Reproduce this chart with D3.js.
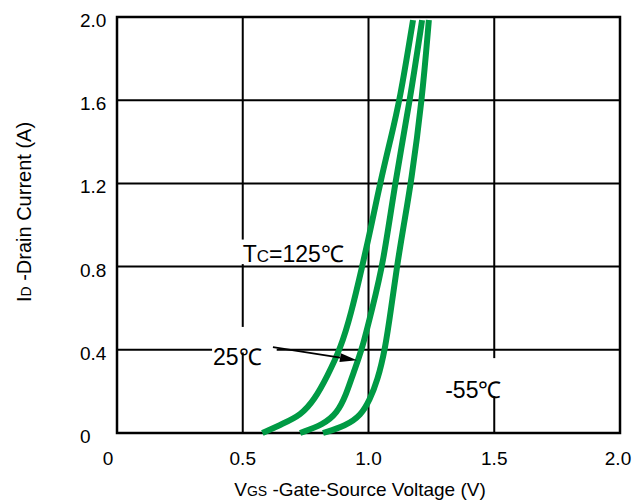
<!DOCTYPE html>
<html>
<head>
<meta charset="utf-8">
<script src="https://cdn.jsdelivr.net/npm/d3@7/dist/d3.min.js"></script>
<style>
  html, body { margin: 0; padding: 0; background: #fff; }
  svg { display: block; font-family: "Liberation Sans", Arial, sans-serif; }
</style>
</head>
<body>
<svg id="chart" width="633" height="500"></svg>
<script>
// ---- data ----
const xTicks = [0, 0.5, 1.0, 1.5, 2.0];
const xTickLabels = ["0", "0.5", "1.0", "1.5", "2.0"];
const yTicks = [0, 0.4, 0.8, 1.2, 1.6, 2.0];
const yTickLabels = ["0", "0.4", "0.8", "1.2", "1.6", "2.0"];

const seriesNames = ["125", "25", "-55"];
const vgs125 = [0.578, 0.66, 0.73, 0.785, 0.835, 0.89, 0.93, 0.975, 1.01, 1.046, 1.085, 1.125, 1.177];
const id125  = [0.0,   0.045, 0.085, 0.16, 0.27, 0.41, 0.57, 0.80, 0.99, 1.20, 1.40, 1.60, 1.985];
const vgs25  = [0.728, 0.82, 0.875, 0.91, 0.94, 0.974, 1.015, 1.058, 1.105, 1.165, 1.213];
const id25   = [0.0,   0.04, 0.095, 0.18, 0.29, 0.40,  0.60,  0.81,  1.20,  1.60,  1.985];
const vgsM55 = [0.819, 0.91, 0.97, 1.005, 1.035, 1.066, 1.09, 1.113, 1.14, 1.169, 1.213, 1.24];
const idM55  = [0.0,   0.035, 0.085, 0.16, 0.25, 0.40, 0.60, 0.80, 1.00, 1.20, 1.60, 1.985];

// ---- layout ----
const svg = d3.select("#chart");
const L = 117, R = 620, T = 17, B = 433;
const x = d3.scaleLinear().domain([0, 2]).range([L, R]);
const y = d3.scaleLinear().domain([0, 2]).range([B, T]);
const green = "#009a44";

// grid lines
svg.append("g").selectAll("line").data(xTicks.slice(1, -1)).enter().append("line")
  .attr("x1", d => x(d)).attr("x2", d => x(d)).attr("y1", T).attr("y2", B)
  .attr("stroke", "#000").attr("stroke-width", 2);
svg.append("g").selectAll("line").data(yTicks.slice(1, -1)).enter().append("line")
  .attr("y1", d => y(d)).attr("y2", d => y(d)).attr("x1", L).attr("x2", R)
  .attr("stroke", "#000").attr("stroke-width", 2);

// white boxes behind annotation labels (cover gridlines)
const boxes = [
  [0.476, 0.93, 0.955, 0.812],
  [0.378, 0.51, 0.635, 0.387],
  [1.28, 0.36, 1.54, 0.175]
];
svg.append("g").selectAll("rect").data(boxes).enter().append("rect")
  .attr("x", d => x(d[0])).attr("y", d => y(d[1]))
  .attr("width", d => x(d[2]) - x(d[0])).attr("height", d => y(d[3]) - y(d[1]))
  .attr("fill", "#fff");

// plot frame
svg.append("rect").attr("x", L).attr("y", T).attr("width", R - L).attr("height", B - T)
  .attr("fill", "none").attr("stroke", "#000").attr("stroke-width", 2.5);

// curves
const curves = [
  d3.zip(vgs125, id125),
  d3.zip(vgs25, id25),
  d3.zip(vgsM55, idM55)
];
const line = d3.line().x(d => x(d[0])).y(d => y(d[1])).curve(d3.curveBasis);
svg.append("g").selectAll("path").data(curves).enter().append("path")
  .attr("d", line).attr("fill", "none").attr("stroke", green).attr("stroke-width", 6)
  .attr("stroke-linecap", "butt");

// tick labels
svg.append("g").selectAll("text").data(xTicks).enter().append("text")
  .attr("x", (d, i) => x(d) + (i === 0 ? -9 : (i === xTicks.length - 1 ? -2 : 0)))
  .attr("y", 465).attr("text-anchor", "middle").attr("font-size", 19).attr("fill", "#000")
  .text((d, i) => xTickLabels[i]);
svg.append("g").selectAll("text").data(yTicks).enter().append("text")
  .attr("x", 80).attr("y", d => y(d) + 10).attr("text-anchor", "start")
  .attr("font-size", 19).attr("fill", "#000")
  .text((d, i) => yTickLabels[i]);

// axis titles
const xt = svg.append("text").attr("x", 360).attr("y", 496).attr("text-anchor", "middle")
  .attr("font-size", 19).attr("fill", "#000");
xt.append("tspan").text("V");
xt.append("tspan").attr("font-size", 14).text("GS");
xt.append("tspan").text(" -Gate-Source Voltage (V)");

const yt = svg.append("text").attr("transform", "translate(31,212) rotate(-90)")
  .attr("text-anchor", "middle").attr("font-size", 20).attr("fill", "#000");
yt.append("tspan").text("I");
yt.append("tspan").attr("font-size", 14).text("D");
yt.append("tspan").text(" -Drain Current (A)");

// annotations
const tc = svg.append("text").attr("x", x(0.50)).attr("y", y(0.822))
  .attr("font-size", 23).attr("fill", "#000");
tc.append("tspan").text("T");
tc.append("tspan").attr("font-size", 17).text("C");
tc.append("tspan").text("=" + seriesNames[0] + "℃");

svg.append("text").attr("x", x(0.382)).attr("y", y(0.327))
  .attr("font-size", 23).attr("fill", "#000").text(seriesNames[1] + "℃");
svg.append("text").attr("x", x(1.305)).attr("y", y(0.168))
  .attr("font-size", 23).attr("fill", "#000").text(seriesNames[2] + "℃");

// arrow from 25℃ label to the 25℃ curve
const a0 = [x(0.62), y(0.413)], a1 = [x(0.954), y(0.35)];
const ang = Math.atan2(a1[1] - a0[1], a1[0] - a0[0]);
const hl = 17, hw = 4.5;
const base = [a1[0] - hl * Math.cos(ang), a1[1] - hl * Math.sin(ang)];
svg.append("line").attr("x1", a0[0]).attr("y1", a0[1]).attr("x2", base[0]).attr("y2", base[1])
  .attr("stroke", "#000").attr("stroke-width", 1.8);
svg.append("path").attr("d", d3.line()([
  a1,
  [base[0] + hw * Math.sin(ang), base[1] - hw * Math.cos(ang)],
  [base[0] - hw * Math.sin(ang), base[1] + hw * Math.cos(ang)]
]) + "Z").attr("fill", "#000");
</script>
</body>
</html>
